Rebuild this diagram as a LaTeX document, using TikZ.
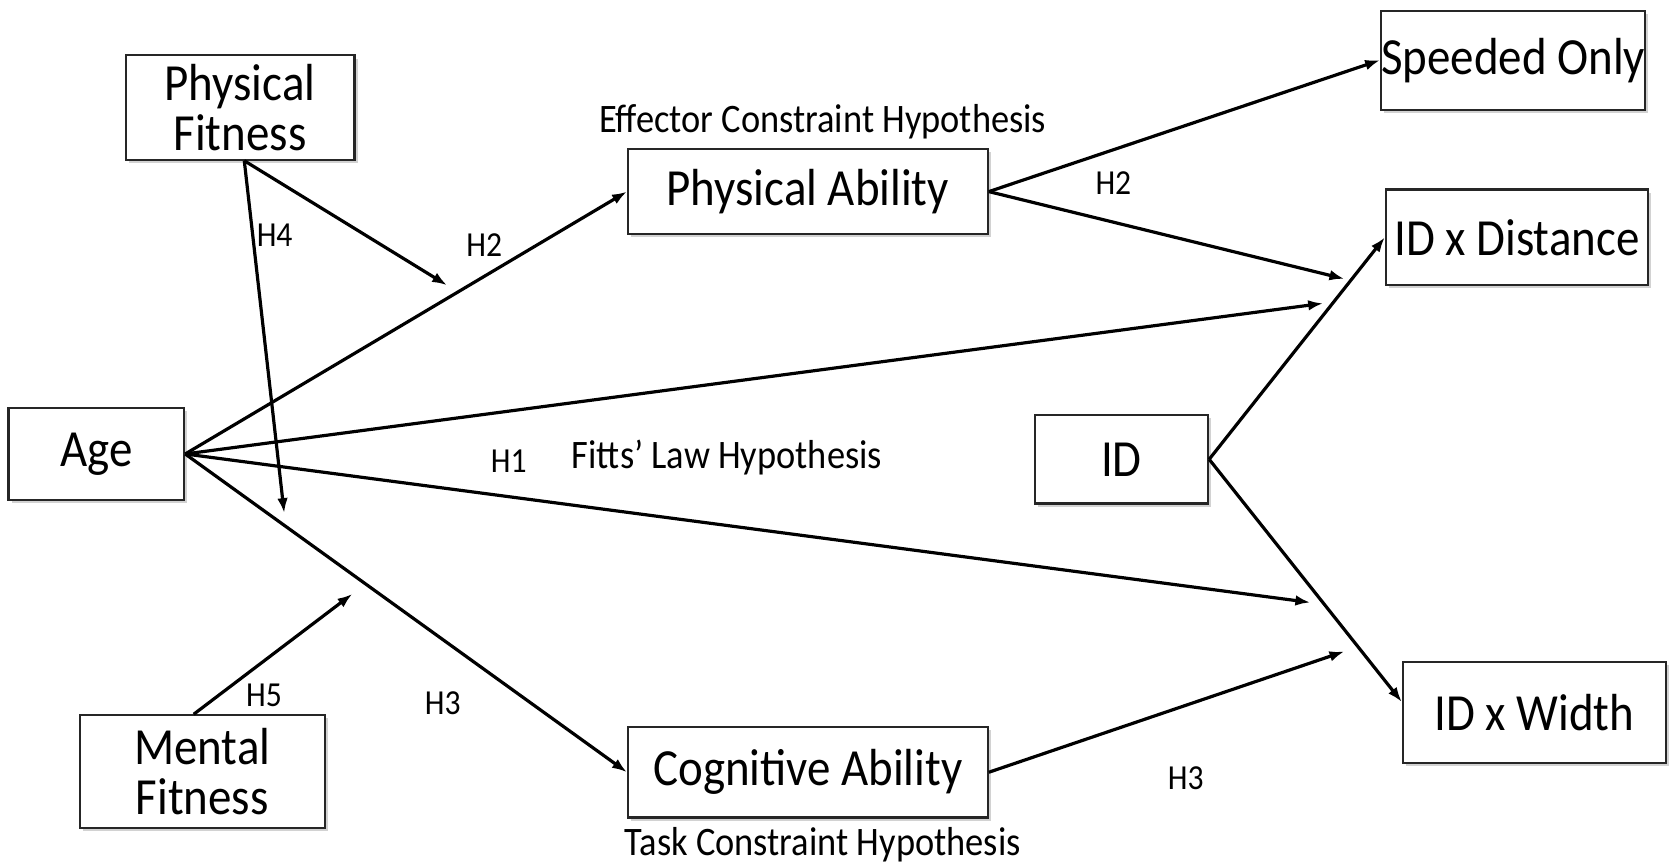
\documentclass[tikz,border=0pt]{standalone}
\usepackage{fontspec}
\setmainfont{Carlito}
\newfontfamily\narrowfont[FakeStretch=0.9]{Carlito}
\usetikzlibrary{arrows.meta,shadows}
\begin{document}
\begin{tikzpicture}[x=1pt,y=-1pt,
  box/.style={draw=black!85,line width=2pt,fill=white,inner sep=0pt,align=center,
    font=\narrowfont\fontsize{49}{47}\selectfont,
    drop shadow={opacity=0.35,shadow xshift=3pt,shadow yshift=-3pt}},
  conn/.style={line width=3pt,-{Latex[length=14pt,width=10pt]}},
  hlab/.style={font=\narrowfont\fontsize{33}{36}\selectfont,inner sep=0pt},
  tlab/.style={font=\narrowfont\fontsize{38}{40}\selectfont,inner sep=0pt}]
\useasboundingbox (0,0) rectangle (1568,811);
\fill[white] (0,0) rectangle (1568,811);
% boxes
\node[box,minimum width=215pt,minimum height=98pt] (pf) at (225.5,101) {Physical\\Fitness};
\node[box,minimum width=338pt,minimum height=80pt] (pa) at (759,180) {Physical Ability};
\node[box,minimum width=247pt,minimum height=93pt] (so) at (1421.5,56.5) {Speeded Only};
\node[box,minimum width=246pt,minimum height=90pt] (dist) at (1425,223) {ID x Distance};
\node[box,minimum width=165pt,minimum height=87pt] (age) at (90.5,426.5) {Age};
\node[box,minimum width=163pt,minimum height=83pt] (id) at (1053.5,431.5) {ID};
\node[box,minimum width=247pt,minimum height=95pt] (wid) at (1441.5,669.5) {ID x Width};
\node[box,minimum width=230pt,minimum height=106pt] (mf) at (190,725) {Mental\\Fitness};
\node[box,minimum width=338pt,minimum height=85pt] (ca) at (759,725.5) {Cognitive Ability};
% free ends
\coordinate (e1) at (420,268);
\coordinate (e2) at (267,482);
\coordinate (e3) at (1243,285);
\coordinate (e4) at (1231,566);
\coordinate (e5) at (331,558);
\coordinate (e6) at (1263,262);
\coordinate (e7) at (1263,612);
% connectors
\draw[conn] (age.east) -- (pa.west);
\draw[conn] (age.east) -- (e3);
\draw[conn] (age.east) -- (e4);
\draw[conn] (age.east) -- (ca.west);
\draw[conn] ([xshift=4pt]pf.south) -- (e2);
\draw[conn] ([xshift=4pt]pf.south) -- (e1);
\draw[conn] ([xshift=-8pt]mf.north) -- (e5);
\draw[conn] (pa.east) -- (so.west);
\draw[conn] (pa.east) -- (e6);
\draw[conn] (id.east) -- (dist.west);
\draw[conn] (id.east) -- ([yshift=10pt]wid.west);
\draw[conn] (ca.east) -- (e7);
% labels
\node[tlab] (ech) at (773,114) {Effector Constraint Hypothesis};
\node[tlab] (tch) at (773,794) {Task Constraint Hypothesis};
\node[tlab] (flh) at (683,430) {Fitts’ Law Hypothesis};
\node[hlab] (h1) at (478,433) {H1};
\node[hlab] (h2a) at (455,230) {H2};
\node[hlab] (h4) at (258,221) {H4};
\node[hlab] (h2b) at (1046,172) {H2};
\node[hlab] (h5) at (248,653) {H5};
\node[hlab] (h3a) at (416,661) {H3};
\node[hlab] (h3b) at (1114,731) {H3};
\end{tikzpicture}
\end{document}
